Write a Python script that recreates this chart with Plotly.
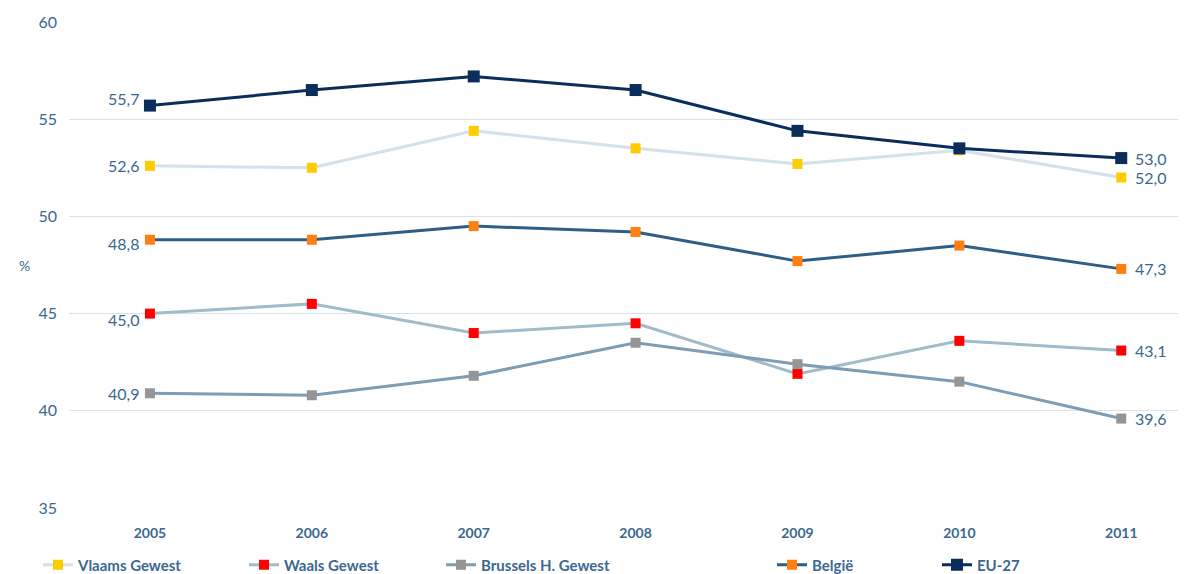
import plotly.graph_objects as go

years = ["2005", "2006", "2007", "2008", "2009", "2010", "2011"]
vlaams = [52.6, 52.5, 54.4, 53.5, 52.7, 53.4, 52.0]
waals = [45.0, 45.5, 44.0, 44.5, 41.9, 43.6, 43.1]
brussel = [40.9, 40.8, 41.8, 43.5, 42.4, 41.5, 39.6]
belgie = [48.8, 48.8, 49.5, 49.2, 47.7, 48.5, 47.3]
eu27 = [55.7, 56.5, 57.2, 56.5, 54.4, 53.5, 53.0]

names = ["Vlaams Gewest", "Waals Gewest", "Brussels H. Gewest", "België", "EU-27"]
series = [vlaams, waals, brussel, belgie, eu27]
line_colors = ["#D3E2E8", "#A2BBCB", "#7E9CB5", "#2E5E86", "#0A2D5C"]
marker_colors = ["#FFCC00", "#FF0000", "#959595", "#FF7F10", "#0A2D5C"]
marker_sizes = [10, 10, 10, 10, 12]
legend_px = [38, 244, 441, 772, 937]
# vertical nudges of the first / last value labels (pixels)
first_yshift = [0, -6, 0, -4, 7]
last_yshift = [0, 0, 0, 0, 0]

TEXT = "#3B6891"
FONT = "Lato"
OFF = 8                      # page body margin offset
L, T, W, H = 69 - OFF, 22 - OFF, 1117, 486
FW, FH = 1186, 574

fig = go.Figure()
annotations = []
for i, (nm, vals) in enumerate(zip(names, series)):
    lg = "legend" if i == 0 else f"legend{i+1}"
    fig.add_trace(go.Scatter(
        x=years, y=vals, name=nm, mode="lines+markers",
        line=dict(color=line_colors[i], width=3),
        marker=dict(symbol="square", size=marker_sizes[i], color=marker_colors[i]),
        legend=lg,
    ))
    annotations.append(dict(x=0, y=vals[0], xref="x", yref="y",
                            text=f"{vals[0]:.1f}".replace(".", ","), showarrow=False,
                            xanchor="right", xshift=-9, yshift=first_yshift[i],
                            font=dict(size=16, color=TEXT, family=FONT)))
    annotations.append(dict(x=len(years) - 1, y=vals[-1], xref="x", yref="y",
                            text=f"{vals[-1]:.1f}".replace(".", ","), showarrow=False,
                            xanchor="left", xshift=12, yshift=last_yshift[i],
                            font=dict(size=16, color=TEXT, family=FONT)))

annotations.append(dict(text="%", xref="paper", x=(17 - 69) / W, yref="y", y=47.5,
                        showarrow=False, font=dict(size=14, color=TEXT, family=FONT)))

legend_common = dict(orientation="h", yref="container", y=1 - (565 - OFF) / FH, yanchor="middle",
                     xref="container", xanchor="left",
                     font=dict(size=15, color=TEXT, family=FONT, weight="bold"),
                     bgcolor="rgba(0,0,0,0)", itemwidth=30)
layout_legends = {}
for i, px in enumerate(legend_px):
    key = "legend" if i == 0 else f"legend{i+1}"
    layout_legends[key] = dict(legend_common, x=(px - OFF) / FW)

fig.update_layout(
    width=FW, height=FH,
    margin=dict(l=L, r=FW - L - W, t=T, b=FH - T - H, autoexpand=False),
    plot_bgcolor="white", paper_bgcolor="white",
    font=dict(family=FONT, color=TEXT),
    showlegend=True,
    xaxis=dict(type="category", range=[-0.5, 6.4], showgrid=False, zeroline=False,
               showline=False, ticks="", ticklabelstandoff=15,
               tickfont=dict(size=14, color=TEXT, family=FONT, weight="bold")),
    yaxis=dict(range=[35, 60], dtick=5, showgrid=True, gridcolor="#D6E3E9", gridwidth=1,
               zeroline=False, showline=False, ticks="", ticklabelstandoff=11,
               tickfont=dict(size=16, color=TEXT, family=FONT)),
    annotations=annotations,
    **layout_legends,
)
fig.write_html("out.html")
